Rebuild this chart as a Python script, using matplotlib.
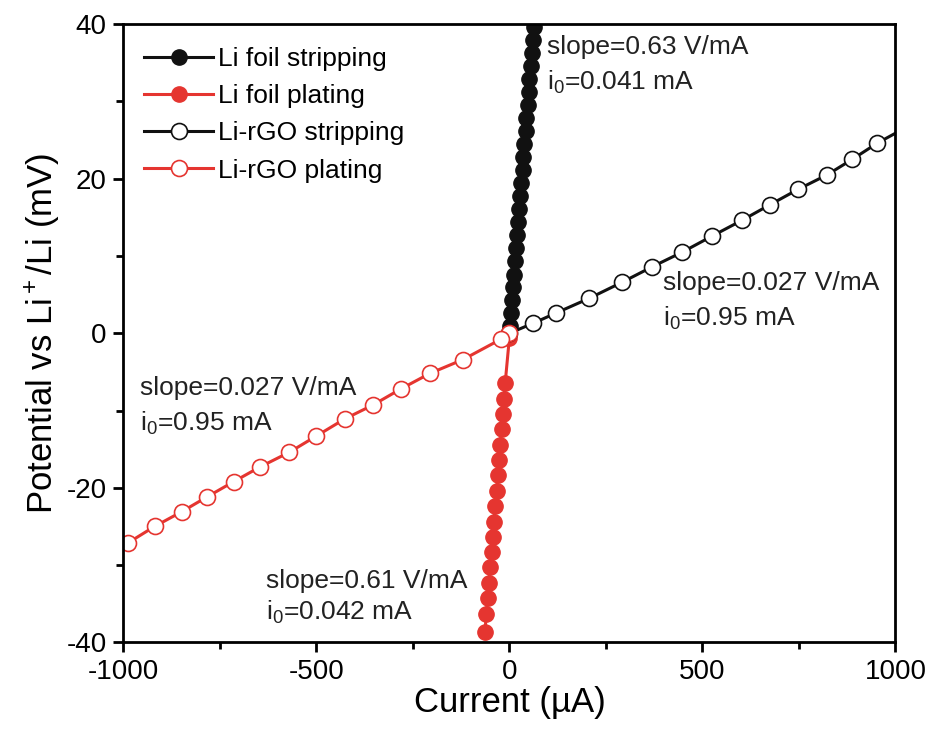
import numpy as np
import matplotlib
matplotlib.use("Agg")
import matplotlib.pyplot as plt

plt.rcParams['font.family'] = ['Liberation Sans', 'DejaVu Sans']
plt.rcParams['mathtext.fontset'] = 'custom'
plt.rcParams['mathtext.rm'] = 'Liberation Sans'
plt.rcParams['mathtext.it'] = 'Liberation Sans'
plt.rcParams['mathtext.default'] = 'regular'
plt.rcParams['axes.unicode_minus'] = False

# Li foil stripping (current uA, potential mV)
foil_strip_i = [1, 4, 7, 9, 12, 15, 17, 20, 23, 26, 28, 31, 34, 36, 39, 42,
                44, 47, 50, 52, 55, 58, 60, 63]
foil_strip_v = [0.9, 2.6, 4.3, 6.0, 7.6, 9.3, 11.0, 12.7, 14.4, 16.1, 17.8,
                19.4, 21.1, 22.8, 24.5, 26.2, 27.9, 29.5, 31.2, 32.9, 34.6,
                36.3, 38.0, 39.6]

# Li foil plating
foil_plate_i = [0, -11, -14, -17, -20, -24, -27, -30, -33, -37, -40, -43,
                -46, -50, -53, -56, -60, -63]
foil_plate_v = [-0.6, -6.5, -8.5, -10.5, -12.4, -14.4, -16.4, -18.4, -20.4,
                -22.4, -24.4, -26.3, -28.3, -30.3, -32.3, -34.3, -36.3, -38.6]

# Li-rGO stripping
rgo_strip_i = [0, 62, 120, 206, 292, 370, 448, 526, 602, 674, 747, 823, 888,
               953, 1030]
rgo_strip_v = [0.0, 1.3, 2.6, 4.5, 6.6, 8.6, 10.5, 12.6, 14.6, 16.6, 18.6,
               20.5, 22.5, 24.6, 26.7]

# Li-rGO plating
rgo_plate_i = [0, -23, -120, -206, -281, -354, -427, -500, -570, -646, -714,
               -784, -849, -919, -987]
rgo_plate_v = [0.0, -0.8, -3.4, -5.2, -7.2, -9.3, -11.1, -13.3, -15.4, -17.3,
               -19.2, -21.2, -23.1, -25.0, -27.1]

black = '#111111'
red = '#e53530'

fig = plt.figure(figsize=(9.27, 7.30), dpi=100)
ax = fig.add_axes([0.133, 0.120, 0.833, 0.847])

ax.plot(foil_strip_i, foil_strip_v, '-o', color=black, lw=2.2, ms=11,
        label='Li foil stripping')
ax.plot(foil_plate_i, foil_plate_v, '-o', color=red, lw=2.2, ms=11,
        label='Li foil plating')
ax.plot(rgo_strip_i, rgo_strip_v, '-o', color=black, lw=2.2, ms=11.5,
        mfc='white', mec=black, mew=1.2, label='Li-rGO stripping')
ax.plot(rgo_plate_i, rgo_plate_v, '-o', color=red, lw=2.2, ms=11.5,
        mfc='white', mec=red, mew=1.2, label='Li-rGO plating')

fs = 19
tc = '#222222'
ax.text(98, 37.0, 'slope=0.63 V/mA', fontsize=fs, va='center', color=tc)
ax.text(98, 32.5, 'i$_0$=0.041 mA', fontsize=fs, va='center', color=tc)
ax.text(399, 6.5, 'slope=0.027 V/mA', fontsize=fs, va='center', color=tc)
ax.text(399, 1.9, 'i$_0$=0.95 mA', fontsize=fs, va='center', color=tc)
ax.text(-956, -7.1, 'slope=0.027 V/mA', fontsize=fs, va='center', color=tc)
ax.text(-956, -11.7, 'i$_0$=0.95 mA', fontsize=fs, va='center', color=tc)
ax.text(-630, -32.0, 'slope=0.61 V/mA', fontsize=fs, va='center', color=tc)
ax.text(-630, -36.1, 'i$_0$=0.042 mA', fontsize=fs, va='center', color=tc)

ax.set_xlim(-1000, 1000)
ax.set_ylim(-40, 40)
ax.set_xticks([-1000, -500, 0, 500, 1000])
ax.set_xticks([-750, -250, 250, 750], minor=True)
ax.set_yticks([-40, -20, 0, 20, 40])
ax.set_yticks([-30, -10, 10, 30], minor=True)
ax.tick_params(which='both', direction='out', width=2, labelsize=20,
               top=False, right=False, pad=5)
ax.tick_params(which='major', length=7)
ax.tick_params(which='minor', length=5)
for s in ax.spines.values():
    s.set_linewidth(2)

ax.set_xlabel('Current (µA)', fontsize=25, labelpad=1)
ax.set_ylabel('Potential vs Li$^+$/Li (mV)', fontsize=25, labelpad=3)

ax.legend(loc='upper left', bbox_to_anchor=(0.0, 0.997), frameon=False,
          fontsize=19, handlelength=2.6, handletextpad=0.2,
          labelspacing=0.5, borderaxespad=0.4)

fig.savefig('out.png', dpi=100)
